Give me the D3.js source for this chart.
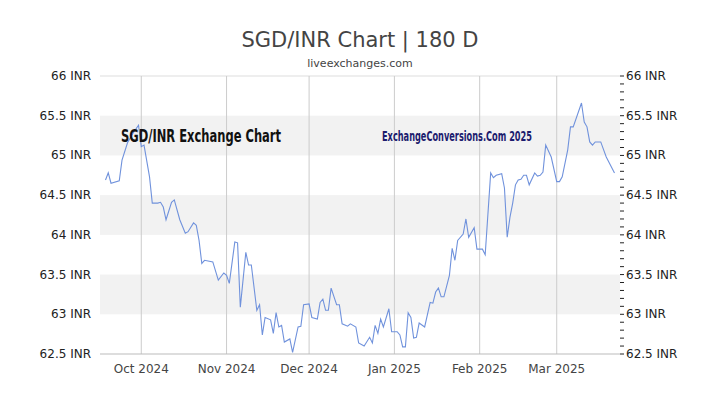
<!DOCTYPE html>
<html><head><meta charset="utf-8">
<script src="https://cdn.jsdelivr.net/npm/d3@7"></script>
<style>body{margin:0;background:#fff}</style></head>
<body><svg id="c" width="720" height="405"></svg>
<script>
const startDate = new Date(2024, 8, 16);
const endDate = new Date(2025, 2, 24);
const dayOffsets = [2,3,4,7,8,10,12,14,15,16,18,19,21,22,23,24,26,27,29,31,32,34,35,36,37,38,41,43,45,46,47,49,50,51,53,54,55,57,58,59,60,62,63,64,65,66,67,69,70,72,73,74,76,77,79,80,81,82,83,84,86,87,88,90,91,93,94,96,98,99,100,101,102,103,105,106,108,109,110,111,112,113,114,115,116,118,120,121,122,123,124,125,127,128,129,130,132,133,134,136,137,139,140,142,143,144,146,147,148,149,150,151,152,153,154,155,156,158,159,160,161,162,164,166,167,168,170,171,172,175,176,177,178,179,180,182,184,187];
const rates = [64.69,64.78,64.65,64.68,64.94,65.16,65.28,65.38,65.11,65.13,64.73,64.40,64.40,64.41,64.35,64.19,64.41,64.44,64.19,64.02,64.04,64.15,64.12,63.93,63.64,63.68,63.66,63.43,63.52,63.49,63.39,63.91,63.90,63.09,63.78,63.62,63.62,63.05,63.12,62.74,62.96,62.93,62.76,63.02,62.84,62.86,62.65,62.69,62.52,62.84,62.85,63.12,63.13,62.96,62.94,63.15,63.19,63.05,63.05,63.33,63.12,63.12,62.88,62.85,62.88,62.84,62.64,62.60,62.71,62.64,62.86,62.76,62.94,62.84,63.07,62.78,62.78,62.74,62.59,62.59,63.02,62.96,62.70,62.71,62.89,62.84,63.15,63.14,63.28,63.33,63.22,63.22,63.49,63.83,63.68,63.93,64.01,64.20,63.97,64.09,63.82,63.82,63.75,64.78,64.72,64.75,64.77,64.59,63.97,64.22,64.40,64.63,64.69,64.70,64.75,64.75,64.63,64.78,64.74,64.75,64.79,65.13,64.98,64.67,64.67,64.73,65.07,65.36,65.36,65.66,65.42,65.36,65.17,65.13,65.17,65.17,64.98,64.78];
const yTicks = [62.5,63,63.5,64,64.5,65,65.5,66];
const monthTicks = [new Date(2024,9,1),new Date(2024,10,1),new Date(2024,11,1),new Date(2025,0,1),new Date(2025,1,1),new Date(2025,2,1)];
const bands = [[63,63.5],[64,64.5],[65,65.5]];

const svg = d3.select('#c');
const L=100,R=620,T=76,B=354;
const x = d3.scaleTime().domain([startDate,endDate]).range([L,R]);
const y = d3.scaleLinear().domain([62.5,66]).range([B,T]);
const data = dayOffsets.map((d,i)=>({date:d3.timeDay.offset(startDate,d),v:rates[i]}));

svg.selectAll('rect.band').data(bands).join('rect')
  .attr('x',L).attr('width',R-L).attr('y',d=>y(d[1])).attr('height',d=>y(d[0])-y(d[1])).attr('fill','#f2f2f2');
svg.append('line').attr('x1',L).attr('x2',R).attr('y1',T).attr('y2',T).attr('stroke','#ddd');
svg.selectAll('line.vg').data(monthTicks).join('line')
  .attr('x1',d=>x(d)).attr('x2',d=>x(d)).attr('y1',T).attr('y2',B).attr('stroke','#ccc');
svg.append('line').attr('x1',L).attr('x2',R).attr('y1',B).attr('y2',B).attr('stroke','#bbb');

const minor = d3.range(62.5,66.001,0.1);
svg.selectAll('line.mt').data(minor).join('line')
  .attr('x1',R).attr('x2',R+4).attr('y1',d=>y(d)).attr('y2',d=>y(d)).attr('stroke','#222');

const fmt = d=>d+' INR';
svg.selectAll('text.yl').data(yTicks).join('text')
  .attr('x',91).attr('y',d=>y(d)+4).attr('text-anchor','end').text(fmt)
  .attr('font-family','DejaVu Sans').attr('font-size',12).attr('fill','#222');
svg.selectAll('text.yr').data(yTicks).join('text')
  .attr('x',626).attr('y',d=>y(d)+4).text(fmt)
  .attr('font-family','DejaVu Sans').attr('font-size',12).attr('fill','#222');
svg.selectAll('text.xl').data(monthTicks).join('text')
  .attr('x',d=>x(d)).attr('y',373).attr('text-anchor','middle').text(d3.timeFormat('%b %Y'))
  .attr('font-family','DejaVu Sans').attr('font-size',12).attr('fill','#444');

svg.append('path').datum(data).attr('fill','none').attr('stroke','#7092dc').attr('stroke-width',1.1)
  .attr('d',d3.line().x(d=>x(d.date)).y(d=>y(d.v)));

svg.append('text').attr('x',360).attr('y',47).attr('text-anchor','middle').text('SGD/INR Chart | 180 D')
  .attr('font-family','DejaVu Sans').attr('font-size',21).attr('fill','#444');
svg.append('text').attr('x',360).attr('y',67).attr('text-anchor','middle').text('liveexchanges.com')
  .attr('font-family','DejaVu Sans').attr('font-size',11).attr('fill','#444');
svg.append('text').attr('x',121).attr('y',142).text('SGD/INR Exchange Chart')
  .attr('font-family','DejaVu Sans Condensed, sans-serif').attr('font-weight','bold')
  .attr('font-size',18).attr('fill','#111').attr('textLength',160).attr('lengthAdjust','spacingAndGlyphs');
svg.append('text').attr('x',382).attr('y',141).text('ExchangeConversions.Com 2025')
  .attr('font-family','DejaVu Sans Condensed, sans-serif').attr('font-weight','bold')
  .attr('font-size',13.5).attr('fill','#1c1c6e').attr('textLength',150).attr('lengthAdjust','spacingAndGlyphs');
</script></body></html>
